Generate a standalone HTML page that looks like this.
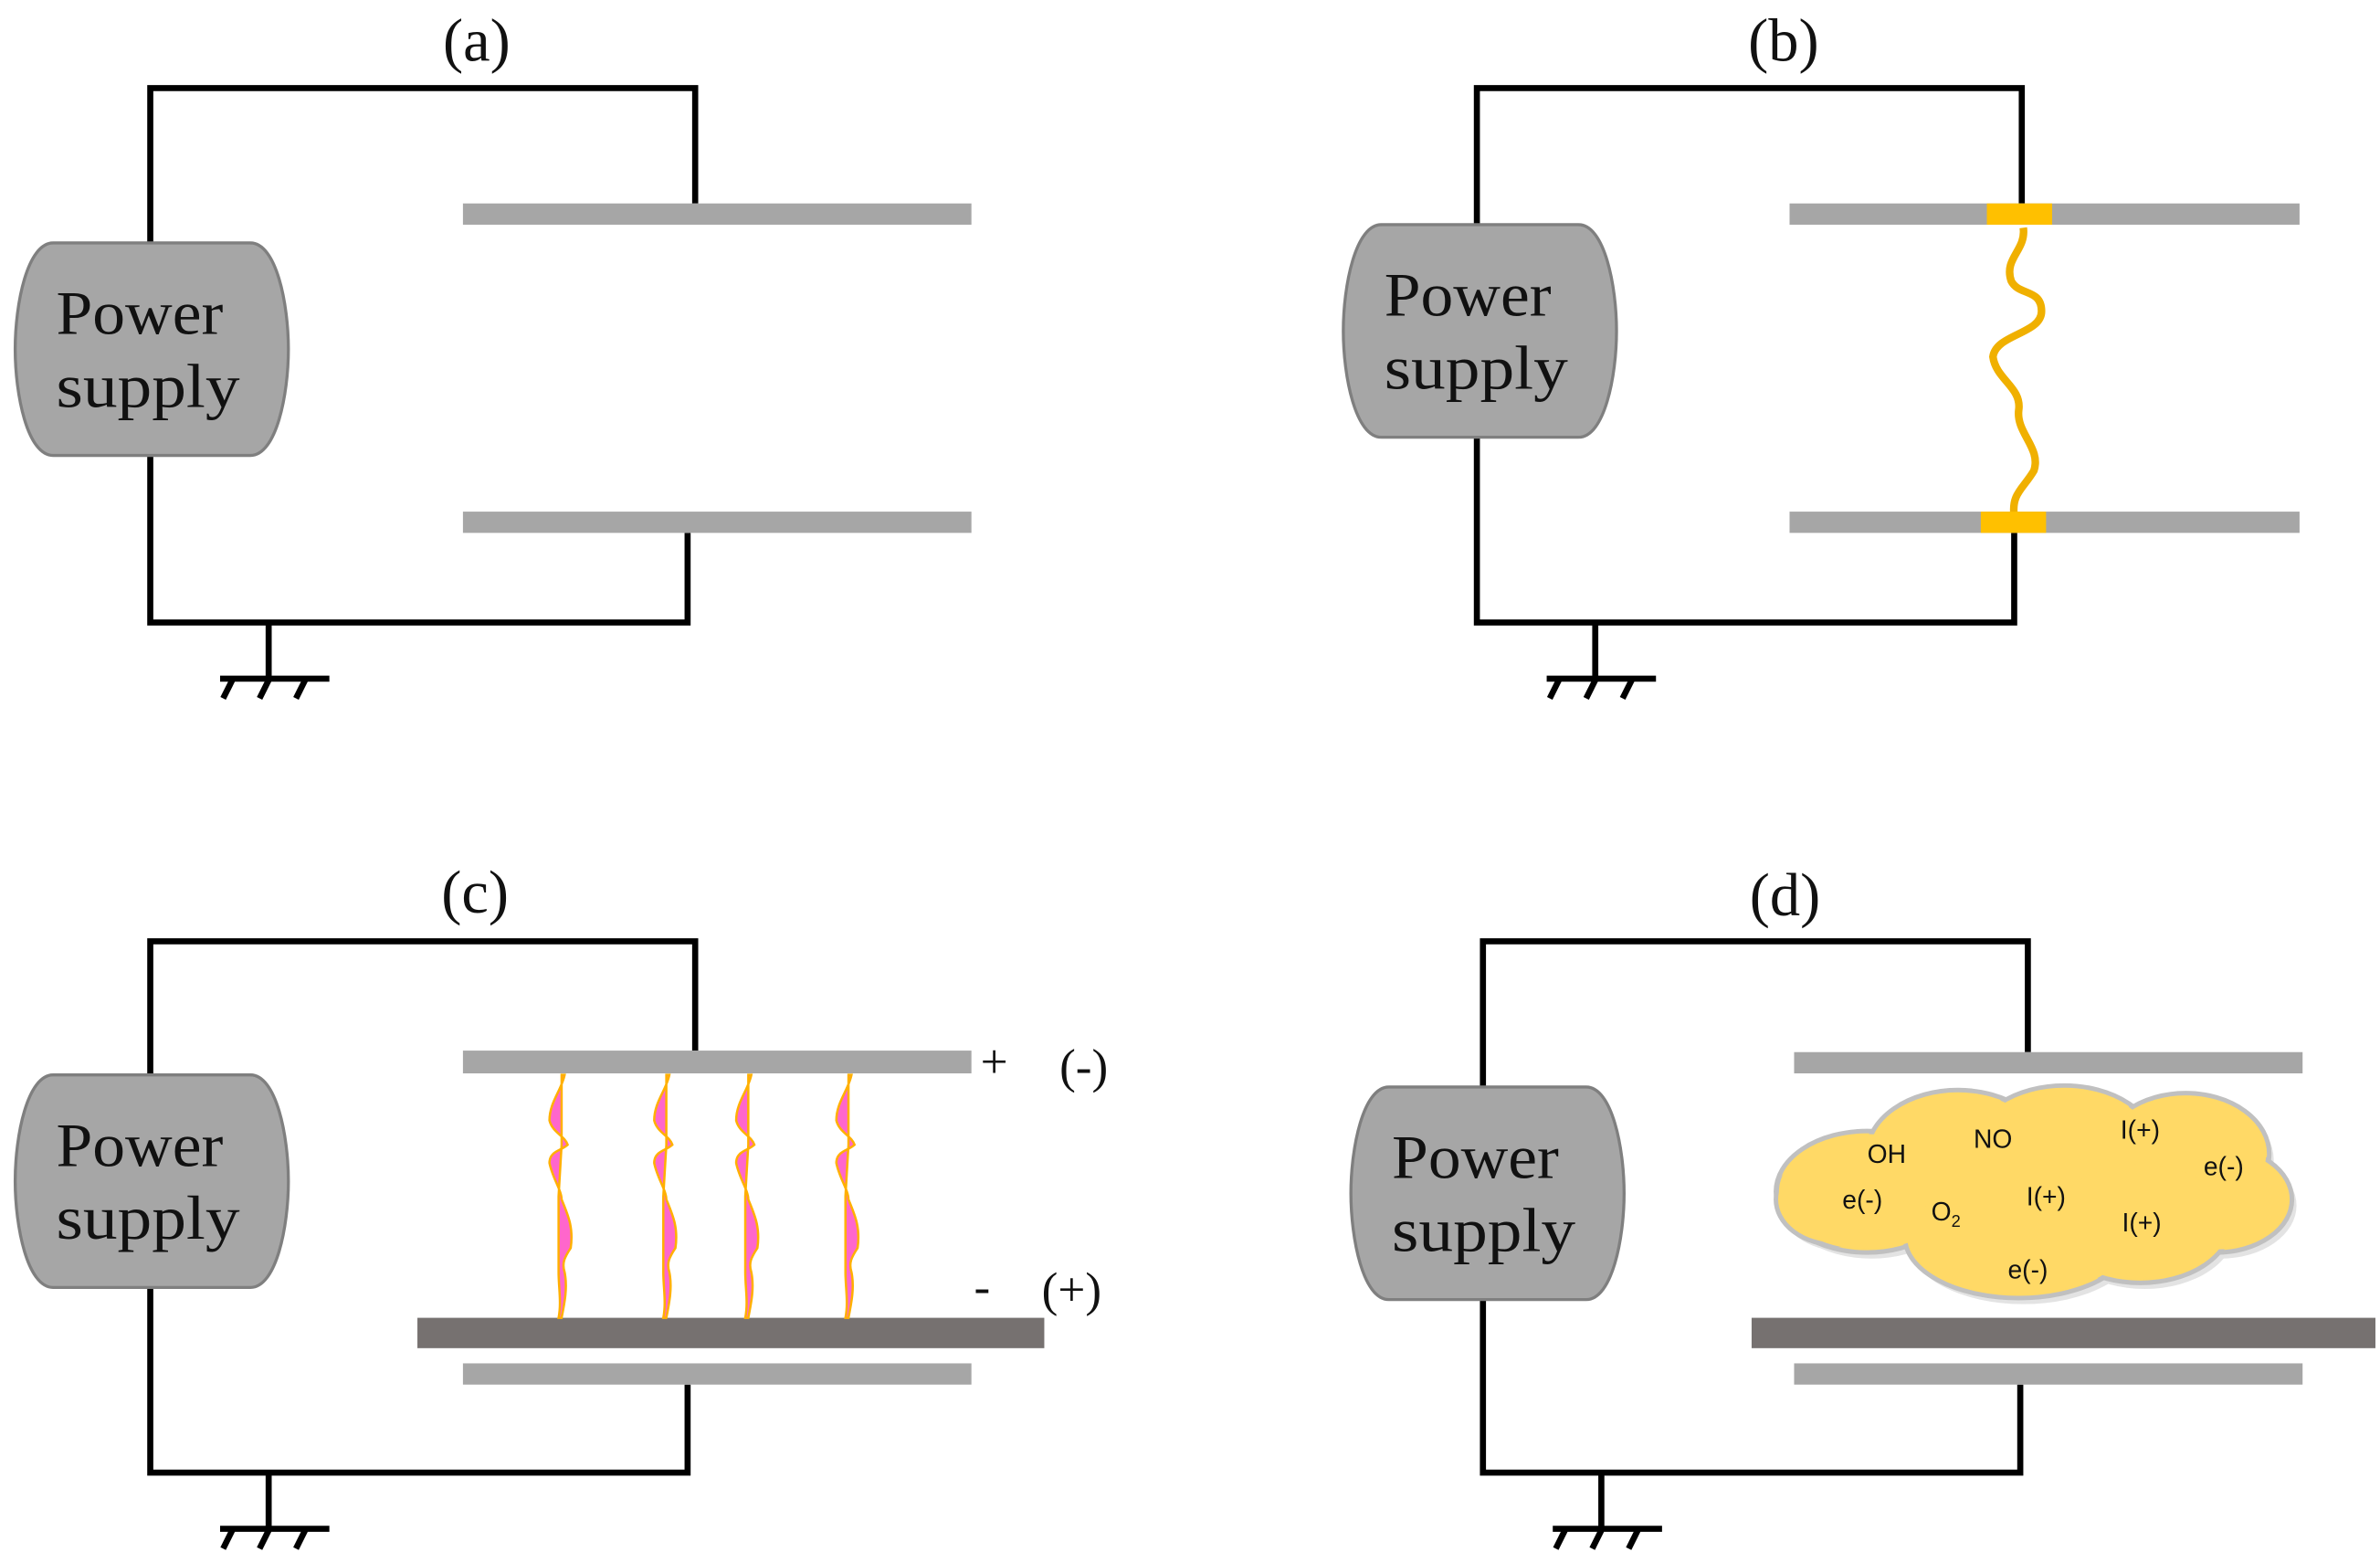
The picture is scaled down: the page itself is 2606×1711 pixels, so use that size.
<!DOCTYPE html>
<html><head><meta charset="utf-8"><style>html,body{margin:0;padding:0;background:#fff}svg{display:block}</style></head>
<body>
<svg width="2606" height="1711" viewBox="0 0 1568 1029.5" preserveAspectRatio="none" xmlns="http://www.w3.org/2000/svg">
<defs>
<g id="ps">
<path d="M25,0 H155 C172,0 180,40 180,70 C180,100 172,140 155,140 H25 C8,140 0,100 0,70 C0,40 8,0 25,0 Z" fill="#a6a6a6" stroke="#7f7f7f" stroke-width="2"/>
<text x="27" y="60" font-family="'Liberation Serif',serif" font-size="41" fill="#111" textLength="110" lengthAdjust="spacingAndGlyphs">Power</text>
<text x="27" y="108" font-family="'Liberation Serif',serif" font-size="41" fill="#111" textLength="121" lengthAdjust="spacingAndGlyphs">supply</text>
</g>
<g id="gnd" stroke="#000" stroke-width="4" fill="none">
<line x1="0" y1="0" x2="0" y2="37"/>
<line x1="-32" y1="37" x2="40" y2="37"/>
<line x1="-24" y1="38" x2="-30" y2="50"/>
<line x1="0" y1="38" x2="-6" y2="50"/>
<line x1="24" y1="38" x2="18" y2="50"/>
</g>
<g id="str">
<path d="M0,0 C-2,10 -10,18 -10,30 C-8,38 0,40 2,46 C-2,50 -10,50 -10,58 C-8,68 -2,76 -2,82 C2,92 6,100 4,114 C0,120 -2,124 0,130 C2,140 0,150 -2,160 L-4,160 C-2,150 -4,140 -4,130 L-4,80 L-2,46 L-2,0 Z" fill="#ff66cc" stroke="#ffb000" stroke-width="1.5"/>
</g>
</defs>
<g font-family="'Liberation Serif',serif" font-size="40" fill="#111" text-anchor="middle">
<text x="314" y="40">(a)</text><text x="1175" y="40">(b)</text><text x="313" y="601">(c)</text><text x="1176" y="603">(d)</text>
</g>
<!-- a -->
<g fill="none" stroke="#000" stroke-width="4">
<polyline points="99,160 99,58 458,58 458,134"/>
<polyline points="99,300 99,410 453,410 453,351"/>
</g>
<rect x="305" y="134" width="335" height="14" fill="#a6a6a6"/>
<rect x="305" y="337" width="335" height="14" fill="#a6a6a6"/>
<use href="#ps" x="10" y="160"/>
<use href="#gnd" x="177" y="410"/>
<!-- b -->
<g fill="none" stroke="#000" stroke-width="4">
<polyline points="973,148 973,58 1332,58 1332,134"/>
<polyline points="973,288 973,410 1327,410 1327,351"/>
</g>
<rect x="1179" y="134" width="336" height="14" fill="#a6a6a6"/>
<rect x="1179" y="337" width="336" height="14" fill="#a6a6a6"/>
<path d="M1333,150 C1335,165 1320,170 1325,185 C1330,195 1345,190 1345,205 C1345,220 1315,220 1313,235 C1315,250 1332,255 1330,270 C1328,285 1345,295 1340,310 C1333,322 1325,325 1327,340" fill="none" stroke="#f0b000" stroke-width="5"/>
<rect x="1309" y="134" width="43" height="14" fill="#ffc000"/>
<rect x="1305" y="337" width="43" height="14" fill="#ffc000"/>
<use href="#ps" x="885" y="148"/>
<use href="#gnd" x="1051" y="410"/>
<!-- c -->
<g fill="none" stroke="#000" stroke-width="4">
<polyline points="99,708 99,620 458,620 458,692"/>
<polyline points="99,848 99,970 453,970 453,912"/>
</g>
<rect x="305" y="692" width="335" height="15" fill="#a6a6a6"/>
<rect x="275" y="868" width="413" height="20" fill="#767170"/>
<rect x="305" y="898" width="335" height="14" fill="#a6a6a6"/>
<use href="#str" x="372" y="708"/>
<use href="#str" x="441" y="708"/>
<use href="#str" x="495" y="708"/>
<use href="#str" x="561" y="708"/>
<use href="#ps" x="10" y="708"/>
<use href="#gnd" x="177" y="970"/>
<g font-family="'Liberation Serif',serif" font-size="32" fill="#111" text-anchor="middle">
<text x="655" y="710">+</text><text x="714" y="713">(-)</text><text x="647" y="858">-</text><text x="706" y="860">(+)</text>
</g>
<!-- d -->
<g fill="none" stroke="#000" stroke-width="4">
<polyline points="977,716 977,620 1336,620 1336,693"/>
<polyline points="977,856 977,970 1331,970 1331,912"/>
</g>
<rect x="1182" y="693" width="335" height="14" fill="#a6a6a6"/>
<rect x="1154" y="868" width="411" height="20" fill="#767170"/>
<rect x="1182" y="898" width="335" height="14" fill="#a6a6a6"/>
<g transform="translate(3,4)" fill="#d8d8d8" opacity="0.7">
<ellipse cx="1230" cy="785" rx="60" ry="40"/><ellipse cx="1290" cy="760" rx="60" ry="42"/><ellipse cx="1360" cy="755" rx="60" ry="40"/><ellipse cx="1440" cy="760" rx="55" ry="40"/><ellipse cx="1460" cy="790" rx="50" ry="35"/><ellipse cx="1330" cy="815" rx="75" ry="40"/><ellipse cx="1410" cy="805" rx="60" ry="40"/><ellipse cx="1210" cy="790" rx="40" ry="30"/>
</g>
<g fill="#ffd966" stroke="#c0c0c0" stroke-width="3">
<ellipse cx="1230" cy="785" rx="60" ry="40"/><ellipse cx="1290" cy="760" rx="60" ry="42"/><ellipse cx="1360" cy="755" rx="60" ry="40"/><ellipse cx="1440" cy="760" rx="55" ry="40"/><ellipse cx="1460" cy="790" rx="50" ry="35"/><ellipse cx="1330" cy="815" rx="75" ry="40"/><ellipse cx="1410" cy="805" rx="60" ry="40"/><ellipse cx="1210" cy="790" rx="40" ry="30"/>
</g>
<g fill="#ffd966">
<ellipse cx="1230" cy="785" rx="58" ry="38"/><ellipse cx="1290" cy="760" rx="58" ry="40"/><ellipse cx="1360" cy="755" rx="58" ry="38"/><ellipse cx="1440" cy="760" rx="53" ry="38"/><ellipse cx="1460" cy="790" rx="48" ry="33"/><ellipse cx="1330" cy="815" rx="73" ry="38"/><ellipse cx="1410" cy="805" rx="58" ry="38"/><ellipse cx="1210" cy="790" rx="38" ry="28"/>
</g>
<g font-family="'Liberation Sans',sans-serif" font-size="17" fill="#111" text-anchor="middle">
<text x="1243" y="766">OH</text><text x="1313" y="756">NO</text><text x="1410" y="750">I(+)</text><text x="1465" y="774">e(-)</text>
<text x="1227" y="796">e(-)</text><text x="1282" y="804">O<tspan font-size="11" dy="4">2</tspan></text><text x="1348" y="794">I(+)</text><text x="1411" y="811">I(+)</text><text x="1336" y="842">e(-)</text>
</g>
<use href="#ps" x="890" y="716"/>
<use href="#gnd" x="1055" y="970"/>
</svg>
</body></html>
